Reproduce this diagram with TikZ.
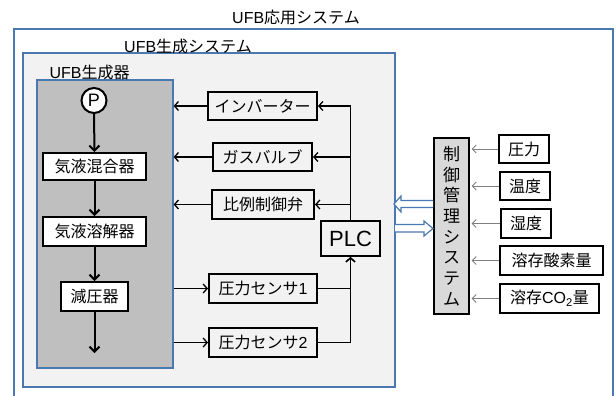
\documentclass[tikz,border=0pt]{standalone}
\usepackage{fontspec}
\setmainfont{Noto Sans CJK JP}
\newfontfamily\lat{Liberation Sans}
\usetikzlibrary{arrows.meta}
\definecolor{bord}{HTML}{4A78B0}
\definecolor{sysfill}{HTML}{F2F2F2}
\definecolor{genfill}{HTML}{BFBFBF}
\definecolor{ctrlfill}{HTML}{D9D9D9}
\definecolor{garrow}{HTML}{7F7F7F}
\newcommand\jpf{\fontsize{16}{18}\selectfont}
\tikzset{
  wbox/.style={draw, line width=2pt, fill=white, inner sep=0pt, font=\jpf},
  gbox/.style={draw, line width=2pt, fill=sysfill, inner sep=0pt, font=\jpf},
  genbox/.style={draw=bord, line width=1.2pt, fill=genfill, inner sep=0pt},
  sysbox/.style={draw=bord, line width=1.2pt, fill=sysfill, inner sep=0pt},
  ttl/.style={font=\jpf, inner sep=0pt},
  larr/.style={line width=2pt, -{Straight Barb[length=5pt,width=10pt]}},
  rarr/.style={line width=1.3pt, -{Straight Barb[length=4pt,width=9pt]}},
  garr/.style={draw=garrow, line width=1pt, -{Straight Barb[length=4pt,width=8pt]}, shorten >=1.5pt},
  hollow/.style={draw=bord, line width=1.2pt, fill=white, line join=miter}
}
\begin{document}
\begin{tikzpicture}[x=1pt,y=-1pt]
\useasboundingbox (0,0) rectangle (616,396);
\fill[white] (0,0) rectangle (616,396);
% outer system
\draw[draw=bord, line width=1.2pt] (14,396) -- (14,29) -- (613,29) -- (613,396);
\node[ttl] (t0) at (296,17) {{\lat UFB}応用システム};
% UFB generation system
\node[sysbox, minimum width=372, minimum height=334] (sys) at (209,220) {};
\node[ttl] (t1) at (188,46) {{\lat UFB}生成システム};
% generator
\node[genbox, minimum width=136, minimum height=288] (gen) at (105,224) {};
\node[ttl] (t2) at (89.5,72) {{\lat UFB}生成器};
\node[draw, circle, line width=2pt, fill=white, minimum size=25, inner sep=0pt, font=\lat\fontsize{18}{20}\selectfont] (P) at (94,100.5) {P};
\node[wbox, minimum width=103, minimum height=27] (mix) at (94.5,166.5) {気液混合器};
\node[wbox, minimum width=103, minimum height=29] (dis) at (94.5,231.5) {気液溶解器};
\node[wbox, minimum width=67, minimum height=29] (dec) at (94.5,296.5) {減圧器};
\coordinate (out) at (94.5,353);
\draw[larr] (P) -- (mix);
\draw[larr] (mix) -- (dis);
\draw[larr] (dis) -- (dec);
\draw[larr] (dec) -- (out);
% right column
\node[gbox, minimum width=109, minimum height=28] (inv) at (262.5,106) {インバーター};
\node[gbox, minimum width=99, minimum height=28] (gas) at (262.5,157) {ガスバルブ};
\node[gbox, minimum width=102, minimum height=29] (prop) at (263,204.5) {比例制御弁};
\node[gbox, minimum width=59, minimum height=35, font=\lat\fontsize{22}{24}\selectfont] (plc) at (350.5,238.5) {PLC};
\node[gbox, minimum width=108, minimum height=29] (s1) at (263,288.5) {圧力センサ{\lat 1}};
\node[gbox, minimum width=108, minimum height=29] (s2) at (263,342.5) {圧力センサ{\lat 2}};
\draw[rarr] (inv.west) -- (inv.west -| gen.east);
\draw[rarr] (gas.west) -- (gas.west -| gen.east);
\draw[rarr] (prop.west) -- (prop.west -| gen.east);
\draw[rarr] (gen.east |- s1.west) -- (s1.west);
\draw[rarr] (gen.east |- s2.west) -- (s2.west);
\draw[rarr] (plc.north) |- (inv.east);
\draw[rarr] (plc.north |- gas.east) -- (gas.east);
\draw[rarr] (plc.north |- prop.east) -- (prop.east);
\draw[rarr] (s1.east) -| (plc.south);
\draw[rarr] (s2.east) -| (plc.south);
% control management system
\node[draw, line width=2pt, fill=ctrlfill, minimum width=35, minimum height=176, inner sep=0pt, align=center, font=\fontsize{17}{20.7}\selectfont] (ctrl) at (451.5,226) {制\\御\\管\\理\\シ\\ス\\テ\\ム};
% hollow arrows
\draw[hollow] (433,200.5) -- (401,200.5) -- (401,196) -- (394,204) -- (401,212) -- (401,207.5) -- (433,207.5);
\draw[hollow] (395,224.5) -- (424,224.5) -- (424,221) -- (433,228.5) -- (424,236) -- (424,232) -- (395,232);
% inputs
\node[wbox, minimum width=50, minimum height=28] (i1) at (524,149) {圧力};
\node[wbox, minimum width=50, minimum height=28] (i2) at (525,186) {温度};
\node[wbox, minimum width=50, minimum height=29] (i3) at (526,223.5) {湿度};
\node[wbox, minimum width=103, minimum height=29] (i4) at (551.5,260.5) {溶存酸素量};
\node[wbox, minimum width=99, minimum height=29] (i5) at (549.5,298.5) {溶存{\lat CO\textsubscript{2}}量};
\draw[garr] (i1.west) -- (i1.west -| ctrl.east);
\draw[garr] (i2.west) -- (i2.west -| ctrl.east);
\draw[garr] (i3.west) -- (i3.west -| ctrl.east);
\draw[garr] (i4.west) -- (i4.west -| ctrl.east);
\draw[garr] (i5.west) -- (i5.west -| ctrl.east);
\end{tikzpicture}
\end{document}
